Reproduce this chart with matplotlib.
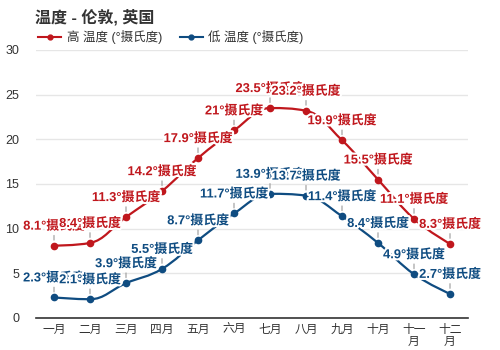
import matplotlib
matplotlib.use("Agg")
import matplotlib.pyplot as plt
import matplotlib.patheffects as pe
from matplotlib.path import Path
from matplotlib.patches import PathPatch
import numpy as np

FAM = ['Liberation Sans', 'Noto Sans CJK SC', 'DejaVu Sans']
plt.rcParams['font.family'] = FAM

months = ["一月", "二月", "三月", "四月", "五月", "六月", "七月", "八月", "九月", "十月", "十一\n月", "十二\n月"]
high = [8.1, 8.4, 11.3, 14.2, 17.9, 21, 23.5, 23.2, 19.9, 15.5, 11.1, 8.3]
low = [2.3, 2.1, 3.9, 5.5, 8.7, 11.7, 13.9, 13.7, 11.4, 8.4, 4.9, 2.7]
title = "温度 - 伦敦, 英国"
series_names = ["高 温度 (°摄氏度)", "低 温度 (°摄氏度)"]
colors = ["#c0171d", "#0f4c81"]
unit = "°摄氏度"

XS = 35.8
YS = 268 / 30.0


def spline_path(xs, ys):
    px = [x * XS for x in xs]
    py = [-y * YS for y in ys]
    n = len(px)
    left = [None] * n
    right = [None] * n
    sm = 1.5
    d = sm + 1
    for i in range(n):
        if i == 0 or i == n - 1:
            left[i] = (px[i], py[i])
            right[i] = (px[i], py[i])
            continue
        lx = (sm * px[i] + px[i - 1]) / d
        ly = (sm * py[i] + py[i - 1]) / d
        rx = (sm * px[i] + px[i + 1]) / d
        ry = (sm * py[i] + py[i + 1]) / d
        if rx != lx:
            corr = ((ry - ly) * (rx - px[i])) / (rx - lx) + py[i] - ry
            ly += corr
            ry += corr
        if ly > py[i - 1] and ly > py[i]:
            ly = max(py[i - 1], py[i]); ry = 2 * py[i] - ly
        elif ly < py[i - 1] and ly < py[i]:
            ly = min(py[i - 1], py[i]); ry = 2 * py[i] - ly
        if ry > py[i + 1] and ry > py[i]:
            ry = max(py[i + 1], py[i]); ly = 2 * py[i] - ry
        elif ry < py[i + 1] and ry < py[i]:
            ry = min(py[i + 1], py[i]); ly = 2 * py[i] - ry
        left[i] = (lx, ly)
        right[i] = (rx, ry)
    verts = [(px[0], py[0])]
    codes = [Path.MOVETO]
    for i in range(1, n):
        verts += [right[i - 1], left[i], (px[i], py[i])]
        codes += [Path.CURVE4] * 3
    verts = [(vx / XS, -vy / YS) for vx, vy in verts]
    return Path(verts, codes)


fig = plt.figure(figsize=(5, 3.5), dpi=100)
ax = fig.add_axes([36 / 500, 32 / 350, 432 / 500, 268 / 350])
x = np.arange(len(months))
ax.set_xlim(-0.5, len(months) - 0.5)
ax.set_ylim(0, 30)
ax.set_yticks([0, 5, 10, 15, 20, 25, 30])
ax.yaxis.grid(True, color="#e6e6e6", lw=1)
ax.set_axisbelow(True)
for s in ["top", "right", "left"]:
    ax.spines[s].set_visible(False)
ax.spines["bottom"].set_color("#333333")
ax.spines["bottom"].set_linewidth(1.2)
ax.set_xticks(x)
ax.set_xticklabels(months, fontsize=8.5, color="#333333", linespacing=1.0)
ax.tick_params(axis="x", length=0, pad=4)
ax.tick_params(axis="y", length=0, labelsize=9, labelcolor="#333333", pad=12)

handles = []
z = 3
for vals, col, name in zip([high, low], colors, series_names):
    patch = PathPatch(spline_path(x, vals), fill=False, edgecolor=col, lw=1.6, zorder=z)
    ax.add_patch(patch)
    ax.plot(x, vals, "o", color=col, ms=4.5, zorder=z + 0.5)
    h, = ax.plot([], [], "-o", color=col, lw=1.5, ms=3.5, label=name)
    handles.append(h)

lz = 10
for vals, col in zip([high, low], colors):
    for xi, v in zip(x, vals):
        txt = f"{v:g}{unit}"
        ax.annotate(txt, (xi, v), xytext=(0, 13), textcoords="offset pixels",
                    ha="center", va="bottom", fontsize=9.3, fontweight="bold", color=col,
                    zorder=lz, annotation_clip=False,
                    path_effects=[pe.withStroke(linewidth=3, foreground="white")],
                    arrowprops=dict(arrowstyle="-", color="#999999", lw=0.8,
                                    shrinkA=0, shrinkB=4, relpos=(0.5, 0.0)))
        lz += 1

fig.text(35 / 500, 1 - 17 / 350, title, fontsize=11.5, fontweight="bold", color="#333333",
         ha="left", va="center")
leg = fig.legend(handles=handles, loc="center left", bbox_to_anchor=(27 / 500, 1 - 37 / 350),
                 ncol=2, frameon=False, fontsize=9, handlelength=1.85, columnspacing=1.4,
                 handletextpad=0.45, labelcolor="#333333")

fig.savefig("out.png", dpi=100)
